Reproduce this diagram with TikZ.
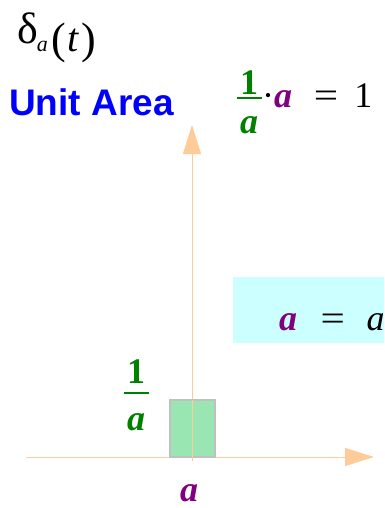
\documentclass[tikz,border=0pt]{standalone}
\usepackage{fontspec}
\setmainfont{Liberation Serif}
\newfontfamily\labelsans{Liberation Sans}
\usetikzlibrary{arrows.meta}

\definecolor{axispeach}{HTML}{FFCC99}
\definecolor{termgreen}{HTML}{008000}
\definecolor{termpurple}{HTML}{800080}
\definecolor{boxcyan}{HTML}{CCFFFF}
\definecolor{pulsegreen}{HTML}{99E6B3}
\definecolor{pulseedge}{HTML}{C0C0C0}

\newcommand{\vara}{\textcolor{termpurple}{\textbf{\textit{a}}}}
\newcommand{\wideeq}{\scalebox{1.2}[1]{=}}

\begin{document}
\begin{tikzpicture}[x=1pt, y=-1pt,
	every node/.style={inner sep=0pt, font=\fontsize{36}{40}\selectfont},
	greenterm/.style={anchor=base, text=termgreen, font=\bfseries\fontsize{36}{40}\selectfont},
	fracrule/.style={termgreen, line width=2pt},
	>={Triangle[length=29pt, width=18pt]}]
	\useasboundingbox (0,0) rectangle (384,508);
	\clip (0,0) rectangle (384,508);
	% highlighted box on the right
	\fill[boxcyan] (233,277) rectangle (400,343);
	% axes
	\draw[->, axispeach, line width=1pt] (26,457) -- (374,457);
	\draw[->, axispeach, line width=1pt] (192,461) -- (192,125);
	% pulse of width a and height 1/a
	\filldraw[fill=pulsegreen, draw=pulseedge, line width=1.5pt] (170,400) rectangle (215,457);
	\draw[axispeach, line width=1pt] (192,400) -- (192,461);
	% title and caption
	\node[anchor=base west] (title) at (17,52)
		{\raisebox{8pt}{\fontsize{44}{44}\selectfont δ}\hspace{-1pt}{\fontsize{22}{22}\selectfont\itshape a}\hspace{4pt}{\fontsize{44}{44}\selectfont\raisebox{-2pt}{(}}\hspace{1pt}{\fontsize{40}{40}\selectfont\itshape t}\hspace{3pt}{\fontsize{44}{44}\selectfont\raisebox{-2pt}{)}}};
	\node[anchor=base west, font=\labelsans\bfseries\fontsize{37}{40}\selectfont, text=blue] (unitarea) at (9,115) {Unit Area};
	% 1/a times a equals 1
	\node[greenterm] (topnum) at (249,95) {1};
	\draw[fracrule] (237,98) -- (262,98);
	\node[greenterm] (topden) at (249,133) {\textit{a}};
	\node[anchor=base west] (product) at (262,108) {·\vara\hspace{0.6em}\wideeq\hspace{0.45em}1};
	% width of the pulse
	\node[anchor=base west] (width) at (279,330) {\vara\hspace{0.65em}\wideeq\hspace{0.6em}\textit{a}};
	% height of the pulse
	\node[greenterm] (sidenum) at (136,383) {1};
	\draw[fracrule] (124,393) -- (149,393);
	\node[greenterm] (sideden) at (136,430) {\textit{a}};
	\node[anchor=base] (xlabel) at (189,501) {\vara};
\end{tikzpicture}
\end{document}
